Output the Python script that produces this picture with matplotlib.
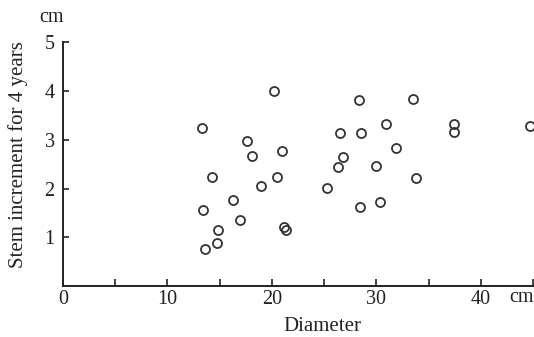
import matplotlib
matplotlib.use("Agg")
import matplotlib.pyplot as plt
from matplotlib.ticker import MultipleLocator

# diameter (cm) and 4-year stem increment (cm)
diameter = [
    13.3, 13.4, 13.6, 14.3, 14.8, 14.7, 16.3, 16.9, 17.6, 18.1, 19.0,
    20.2, 20.5, 21.0, 21.2, 21.4, 25.3, 26.3, 26.5, 26.8, 28.3, 28.5,
    28.4, 30.0, 30.4, 30.9, 31.9, 33.5, 33.8, 37.4, 37.4, 44.7,
]
increment = [
    3.24, 1.55, 0.76, 2.24, 1.16, 0.88, 1.76, 1.35, 2.98, 2.67, 2.06,
    4.00, 2.24, 2.76, 1.22, 1.14, 2.02, 2.45, 3.14, 2.65, 3.82, 3.14,
    1.63, 2.47, 1.73, 3.33, 2.84, 3.84, 2.22, 3.33, 3.16, 3.29,
]

x_ticks = [0, 10, 20, 30, 40]
y_ticks = [1, 2, 3, 4, 5]

plt.rcParams["font.family"] = ["Liberation Serif", "DejaVu Serif"]

fig = plt.figure(figsize=(5.34, 3.37), dpi=100)
ax = fig.add_axes([0.118, 0.151, 0.882, 0.724])

ax.plot(diameter, increment, linestyle="none", marker="o", markersize=6.5,
        markerfacecolor="none", markeredgecolor="#333333", markeredgewidth=1.3)

ax.set_xlim(0, 45.1)
ax.set_ylim(0, 5)
ax.set_xticks(x_ticks)
ax.set_yticks(y_ticks)
ax.xaxis.set_minor_locator(MultipleLocator(5))

for side in ("top", "right"):
    ax.spines[side].set_visible(False)
for side in ("left", "bottom"):
    ax.spines[side].set_linewidth(1.4)
    ax.spines[side].set_color("#222222")

ax.tick_params(axis="both", which="both", direction="in", color="#222222",
               labelsize=14.5, labelcolor="#222222")
ax.tick_params(axis="x", which="major", length=5, width=1.2, pad=3)
ax.tick_params(axis="x", which="minor", length=5, width=1.2)
ax.tick_params(axis="y", which="major", length=4, width=1.2, pad=6)

ax.set_xlabel("Diameter", fontsize=15, color="#222222", va="top")
ax.xaxis.set_label_coords(0.55, -0.125)
ax.set_ylabel("Stem increment for 4 years", fontsize=15, color="#222222")
ax.yaxis.set_label_coords(-0.075, 0.54)

fig.text(51 / 534, 1 - 18 / 337, "cm", fontsize=14.5, color="#222222",
         ha="center", va="center")
fig.text(521 / 534, 1 - 297 / 337, "cm", fontsize=14.5, color="#222222",
         ha="center", va="center")

fig.savefig("out.png", dpi=100)
